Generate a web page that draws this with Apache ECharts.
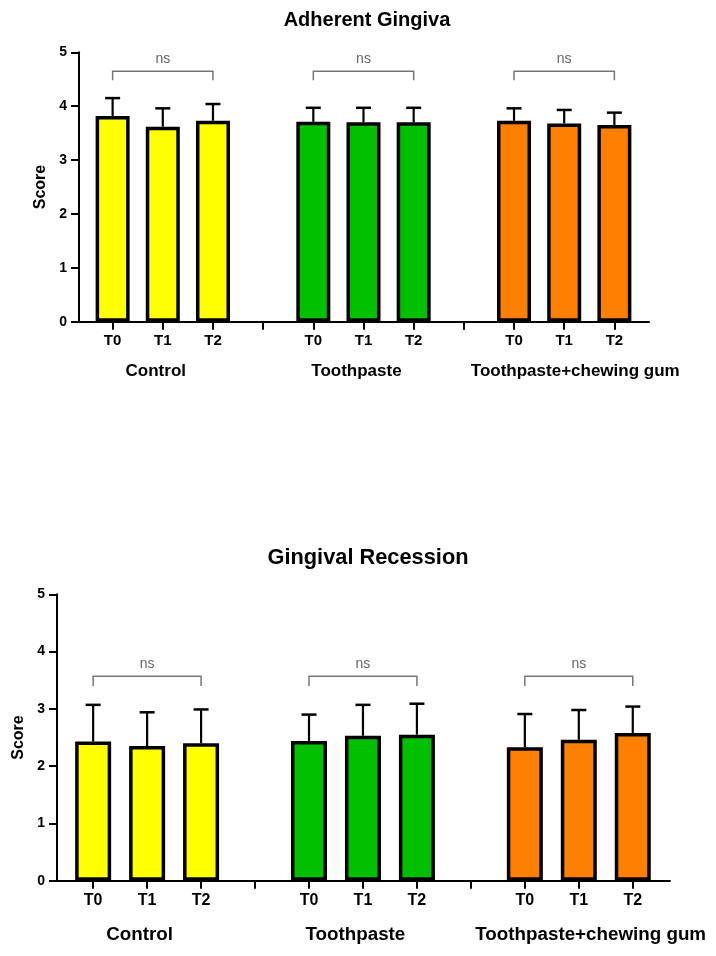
<!DOCTYPE html>
<html>
<head>
<meta charset="utf-8">
<script src="https://cdn.jsdelivr.net/npm/echarts@6/dist/echarts.min.js"></script>
<style>
html,body{margin:0;padding:0;background:#fff;}
#c{width:716px;height:956px;}
</style>
</head>
<body>
<div id="c"></div>
<script>
// ---- data ----
const timeLabels = ['T0', 'T1', 'T2'];
const groups = ['Control', 'Toothpaste', 'Toothpaste+chewing gum'];
const groupColors = ['#FFFF00', '#00C000', '#FF8000'];
const yTicks = [0, 1, 2, 3, 4, 5];

const adherentMean = [3.82, 3.62, 3.73, 3.71, 3.70, 3.70, 3.73, 3.68, 3.65];
const adherentSD   = [0.33, 0.34, 0.31, 0.26, 0.27, 0.27, 0.23, 0.25, 0.23];
const recessionMean = [2.43, 2.35, 2.40, 2.44, 2.53, 2.55, 2.33, 2.46, 2.58];
const recessionSD   = [0.64, 0.59, 0.59, 0.46, 0.54, 0.54, 0.58, 0.52, 0.46];

const sigLabels = ['ns', 'ns', 'ns'];
const adherentBracket = 4.65;
const recessionBracket = 3.57;
const bracketDrop = 0.17;

const titles = ['Adherent Gingiva', 'Gingival Recession'];
const yName = 'Score';

// ---- layout helpers ----
const FONT = '"Liberation Sans", Arial, sans-serif';
const X_MIN = -0.67, X_MAX = 10.69;
const slotOf = i => Math.floor(i / 3) * 4 + (i % 3);
const tickSlots = [0,1,2,3,4,5,6,7,8,9,10];
const labelSlots = [0,1,2,4,5,6,8,9,10];
const groupLabelSlots = [0.86, 4.86, 9.22];

function nearestIdx(arr, v) {
  let b = 0;
  for (let i = 1; i < arr.length; i++) if (Math.abs(arr[i] - v) < Math.abs(arr[b] - v)) b = i;
  return b;
}

function xAxesFor(gridIndex, tSize, gSize, gMargin) {
  return [
    {
      type: 'value', gridIndex, min: X_MIN, max: X_MAX, position: 'bottom',
      splitLine: { show: false },
      axisLine: { show: true, onZero: false, lineStyle: { color: '#000', width: 2 } },
      axisTick: { show: true, customValues: tickSlots, length: 8, lineStyle: { color: '#000', width: 2 } },
      axisLabel: {
        customValues: labelSlots, margin: 12, color: '#000', fontWeight: 'bold',
        fontSize: tSize, fontFamily: FONT,
        formatter: v => timeLabels[Math.round(v) % 4]
      }
    },
    {
      type: 'value', gridIndex, min: X_MIN, max: X_MAX, position: 'bottom',
      splitLine: { show: false },
      axisLine: { show: false, onZero: false }, axisTick: { show: false },
      axisLabel: {
        customValues: groupLabelSlots, margin: gMargin, color: '#000', fontWeight: 'bold',
        fontSize: gSize, fontFamily: FONT,
        formatter: v => groups[nearestIdx(groupLabelSlots, v)]
      }
    }
  ];
}

function yAxisFor(gridIndex, nameGap) {
  return {
    type: 'value', gridIndex, min: yTicks[0], max: yTicks[yTicks.length - 1], interval: 1,
    name: yName, nameLocation: 'middle', nameRotate: 90, nameGap,
    nameTextStyle: { color: '#000', fontWeight: 'bold', fontSize: 16, fontFamily: FONT },
    splitLine: { show: false },
    axisLine: { show: true, onZero: false, lineStyle: { color: '#000', width: 2 } },
    axisTick: { show: true, length: 8, lineStyle: { color: '#000', width: 2 } },
    axisLabel: { margin: 12, color: '#000', fontWeight: 'bold', fontSize: 14, fontFamily: FONT }
  };
}

function seriesFor(axisIdx, mean, sd, barWidth, level) {
  return [
    {
      type: 'custom', xAxisIndex: axisIdx * 2, yAxisIndex: axisIdx, z: 1,
      encode: { x: 0, y: [1, 2] },
      data: mean.map((v, i) => [slotOf(i), v, v + sd[i]]),
      renderItem: (params, api) => {
        const x = api.value(0);
        const lo = api.coord([x, api.value(1)]);
        const hi = api.coord([x, api.value(2)]);
        return {
          type: 'group', children: [
            { type: 'line', shape: { x1: lo[0], y1: lo[1], x2: hi[0], y2: hi[1] }, style: { stroke: '#000', lineWidth: 2.2 } },
            { type: 'line', shape: { x1: hi[0] - 7.5, y1: hi[1], x2: hi[0] + 7.5, y2: hi[1] }, style: { stroke: '#000', lineWidth: 2.5 } }
          ]
        };
      }
    },
    {
      type: 'bar', xAxisIndex: axisIdx * 2, yAxisIndex: axisIdx, z: 2,
      barWidth,
      data: mean.map((v, i) => ({
        value: [slotOf(i), v],
        itemStyle: { color: groupColors[Math.floor(i / 3)], borderColor: '#000', borderWidth: 3.5 }
      })),
      emphasis: { disabled: true }
    },
    {
      type: 'custom', xAxisIndex: axisIdx * 2, yAxisIndex: axisIdx, z: 3,
      encode: { x: [0, 1], y: 2 },
      data: groups.map((g, k) => [k * 4, k * 4 + 2, level, level - bracketDrop, k]),
      renderItem: (params, api) => {
        const a = api.coord([api.value(0), api.value(3)]);
        const b = api.coord([api.value(0), api.value(2)]);
        const c = api.coord([api.value(1), api.value(2)]);
        const d = api.coord([api.value(1), api.value(3)]);
        return {
          type: 'group', children: [
            { type: 'polyline', shape: { points: [a, b, c, d] }, style: { stroke: '#777', lineWidth: 1.5, fill: null } },
            { type: 'text', x: (b[0] + c[0]) / 2, y: b[1] - 12,
              style: { text: sigLabels[api.value(4)], fill: '#666', font: '14px ' + FONT, align: 'center', verticalAlign: 'middle' } }
          ]
        };
      }
    }
  ];
}

const chart = echarts.init(document.getElementById('c'));
chart.setOption({
  animation: false,
  backgroundColor: '#fff',
  title: [
    { text: titles[0], left: 362, top: 5, textAlign: 'center',
      textStyle: { color: '#000', fontWeight: 'bold', fontSize: 20, fontFamily: FONT } },
    { text: titles[1], left: 363, top: 542, textAlign: 'center',
      textStyle: { color: '#000', fontWeight: 'bold', fontSize: 21.8, fontFamily: FONT } }
  ],
  grid: [
    { left: 79, right: 67, top: 52.3, height: 269.4 },
    { left: 57, right: 46, top: 594.3, height: 286.4 }
  ],
  xAxis: [].concat(xAxesFor(0, 15, 17, 41), xAxesFor(1, 16, 18.8, 45)),
  yAxis: [yAxisFor(0, 25), yAxisFor(1, 29)],
  series: [].concat(
    seriesFor(0, adherentMean, adherentSD, 34, adherentBracket),
    seriesFor(1, recessionMean, recessionSD, 36, recessionBracket)
  )
});
</script>
</body>
</html>
